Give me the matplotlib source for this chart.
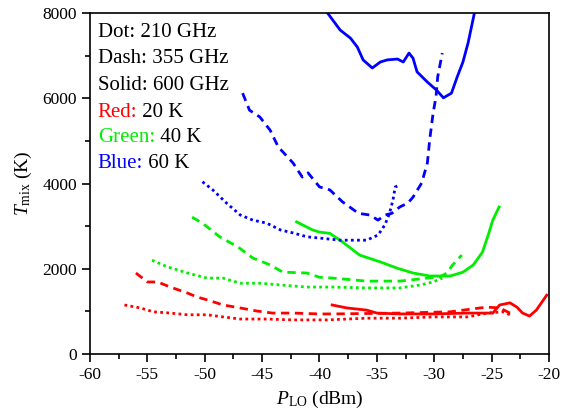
import matplotlib
matplotlib.use("Agg")
import matplotlib.pyplot as plt
from matplotlib.ticker import MultipleLocator

plt.rcParams['font.family'] = ['Liberation Serif', 'DejaVu Serif']
plt.rcParams['mathtext.fontset'] = 'custom'
plt.rcParams['mathtext.rm'] = 'Liberation Serif'
plt.rcParams['mathtext.it'] = 'Liberation Serif:italic'
plt.rcParams['axes.unicode_minus'] = False

# ---- data (P_LO in dBm, T_mix in K) ----
blue_solid_x = [-39.3, -38.2, -37.3, -36.7, -36.2, -35.4, -34.7, -34.1, -33.2, -32.7, -32.2, -31.85,
                -31.5, -30.6, -29.8, -29.2, -28.5, -28.0, -27.5, -27.05, -26.5]
blue_solid_y = [8000, 7600, 7410, 7200, 6900, 6710, 6850, 6900, 6920, 6850, 7060, 6940,
                6620, 6380, 6190, 6010, 6120, 6500, 6850, 7300, 8000]

blue_dash_x = [-46.7, -46.1, -45.2, -44.3, -43.6, -42.3, -41.5, -41.0, -40.0, -39.1, -38.0, -36.6,
               -35.6, -34.9, -34.3, -33.7, -33.0, -32.3, -31.85, -31.1, -30.6, -30.4, -30.1,
               -29.85, -29.7, -29.3]
blue_dash_y = [6120, 5720, 5560, 5250, 4860, 4480, 4150, 4250, 3920, 3850, 3570, 3300,
               3260, 3140, 3260, 3300, 3450, 3540, 3680, 4010, 4480, 5020, 5650,
               6030, 6500, 7060]

blue_dot_x = [-50.2, -49.3, -48.1, -46.9, -45.8, -44.6, -43.4, -42.3, -41.1, -40.0, -38.2, -35.9,
              -34.9, -34.3, -33.9, -33.6, -33.4, -33.2]
blue_dot_y = [4040, 3850, 3540, 3260, 3140, 3070, 2910, 2840, 2750, 2720, 2670, 2670,
              2790, 3030, 3300, 3610, 3920, 3940]

green_solid_x = [-42.0, -40.6, -40.0, -39.1, -38.0, -36.5, -34.7, -33.2, -31.85, -30.4, -28.6,
                 -27.5, -26.6, -25.8, -25.3, -24.9, -24.35]
green_solid_y = [3100, 2910, 2860, 2830, 2630, 2320, 2160, 2010, 1900, 1830, 1830,
                 1920, 2090, 2390, 2790, 3140, 3450]

green_dash_x = [-51.1, -50.2, -48.7, -47.1, -45.8, -44.3, -43.2, -41.1, -40.0, -38.8, -35.9,
                -33.0, -30.6, -29.5, -28.9, -28.4, -27.6]
green_dash_y = [3210, 3070, 2750, 2510, 2250, 2090, 1920, 1900, 1800, 1780, 1710,
                1710, 1780, 1810, 1900, 2090, 2320]

green_dot_x = [-54.6, -53.3, -51.5, -49.8, -48.4, -46.9, -45.2, -43.4, -41.1, -38.8, -35.9,
               -33.0, -31.2, -30.1, -29.3]
green_dot_y = [2200, 2050, 1900, 1780, 1780, 1660, 1660, 1620, 1570, 1570, 1550,
               1550, 1620, 1690, 1780]

red_solid_x = [-38.9, -37.6, -35.9, -35.0, -33.0, -30.1, -27.1, -24.9, -24.3, -23.4, -22.8,
               -22.3, -21.7, -21.1, -20.2]
red_solid_y = [1150, 1080, 1030, 960, 940, 940, 960, 960, 1150, 1200, 1100,
               960, 890, 1030, 1380]

red_dash_x = [-56.0, -55.0, -54.1, -53.0, -51.5, -50.7, -49.8, -48.4, -46.9, -45.5, -44.1,
              -42.3, -40.0, -38.8, -33.0, -28.6, -26.6, -25.4, -24.3, -23.4]
red_dash_y = [1900, 1690, 1690, 1570, 1430, 1340, 1270, 1150, 1080, 1010, 960,
              960, 940, 940, 960, 990, 1060, 1100, 1080, 960]

red_dot_x = [-57.0, -55.6, -54.5, -53.0, -51.5, -49.8, -48.4, -46.9, -44.6, -42.3, -39.3,
             -35.9, -33.0, -30.1, -27.1, -25.4, -24.0, -23.4]
red_dot_y = [1150, 1080, 990, 960, 920, 920, 870, 820, 820, 800, 800,
             840, 840, 870, 870, 960, 990, 920]

RED, GREEN, BLUE = '#ff0000', '#00ee00', '#0000ff'

fig = plt.figure(figsize=(5.63, 4.17), dpi=100)
ax = fig.add_axes([90/563, 1-354/417, 459/563, 341/417])

lw = 2.0
dash = (0, (3, 2))
dot = (0, (1, 1.2))
ax.plot(red_dot_x, red_dot_y, color=RED, lw=lw, ls=dot)
ax.plot(red_dash_x, red_dash_y, color=RED, lw=lw, ls=dash)
ax.plot(red_solid_x, red_solid_y, color=RED, lw=lw, ls='-')
ax.plot(green_dot_x, green_dot_y, color=GREEN, lw=lw, ls=dot)
ax.plot(green_dash_x, green_dash_y, color=GREEN, lw=lw, ls=dash)
ax.plot(green_solid_x, green_solid_y, color=GREEN, lw=lw, ls='-')
ax.plot(blue_dot_x, blue_dot_y, color=BLUE, lw=lw, ls=dot)
ax.plot(blue_dash_x, blue_dash_y, color=BLUE, lw=lw, ls=dash)
ax.plot(blue_solid_x, blue_solid_y, color=BLUE, lw=lw, ls='-')

ax.set_xlim(-60, -20)
ax.set_ylim(0, 8000)
ax.xaxis.set_major_locator(MultipleLocator(5))
ax.xaxis.set_minor_locator(MultipleLocator(2.5))
ax.yaxis.set_major_locator(MultipleLocator(2000))
ax.yaxis.set_minor_locator(MultipleLocator(1000))
ax.tick_params(which='both', direction='out', top=False, right=False, labelsize=12.5, width=1.2)
ax.tick_params(which='major', length=6)
ax.tick_params(which='minor', length=3.5)
for s in ax.spines.values():
    s.set_linewidth(1.2)

ax.set_xlabel(r'$P_{\mathrm{LO}}$ (dBm)', fontsize=14, labelpad=4)
ax.set_ylabel(r'$T_{\mathrm{mix}}$ (K)', fontsize=14, labelpad=6)

fs = 15
x0 = 0.017
baselines = [37, 63, 90, 117, 142, 168]
ys = [1 - (b - 13) / 341 for b in baselines]
for txt, y in zip(['Dot: 210 GHz', 'Dash: 355 GHz', 'Solid: 600 GHz'], ys[:3]):
    ax.text(x0, y, txt, transform=ax.transAxes, fontsize=fs, va='baseline', ha='left')
for (lab, col, rest), y in zip([('Red:', RED, ' 20 K'), ('Green:', GREEN, ' 40 K'),
                                ('Blue:', BLUE, ' 60 K')], ys[3:]):
    t = ax.text(x0, y, lab, transform=ax.transAxes, fontsize=fs, va='baseline', ha='left', color=col)
    ax.annotate(rest, xy=(1, 0), xycoords=t, fontsize=fs, va='bottom', ha='left', color='black')

fig.savefig('out.png', dpi=100)
